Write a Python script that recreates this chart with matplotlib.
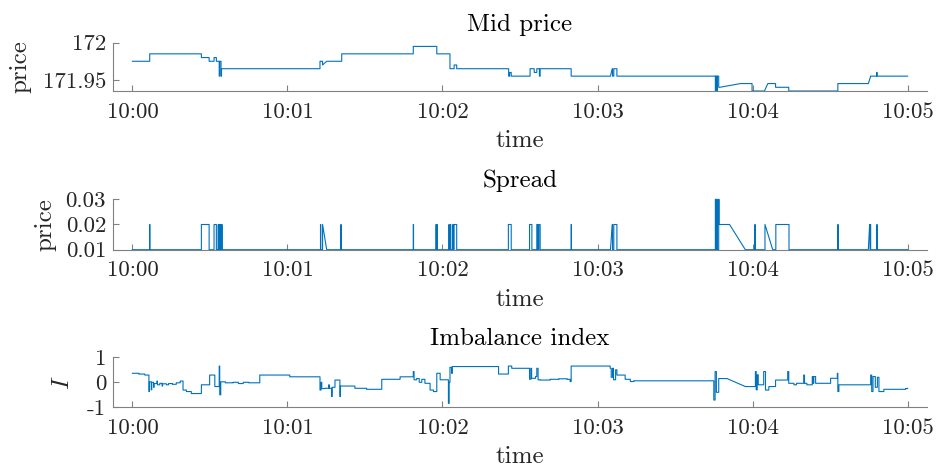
import numpy as np
import matplotlib
matplotlib.use("Agg")
import matplotlib.pyplot as plt

plt.rcParams['font.family'] = ['cmr10', 'DejaVu Serif']
plt.rcParams['mathtext.fontset'] = 'cm'
plt.rcParams['axes.unicode_minus'] = False

# ---------------- data (seconds after 10:00:00) ----------------
mid_t = [0, 6.7, 26.7, 29.7, 31.6, 32.5, 33.6, 33.8, 34.3, 34.5, 72.6, 72.8, 73.6, 75.2,
         81.0, 108.7, 117.8, 122.9, 124.5, 125.5, 145.6, 146.0, 146.6, 153.9, 155.5, 156.5,
         157.5, 157.8, 169.8, 185.0, 185.7, 185.8, 186.3, 187.5, 225.6, 225.7, 226.2, 226.3,
         226.9, 227.3, 235.3, 239.8, 244.6, 245.9, 248.9, 254.0, 273.0, 284.8, 285.7, 288.0,
         288.2, 300.0]
mid_v = [171.975, 171.985, 171.98, 171.975, 171.98, 171.975, 171.955, 171.975, 171.955, 171.965,
         171.975, 171.975, 171.97, 171.975, 171.985, 171.995, 171.985, 171.965, 171.97, 171.965,
         171.955, 171.96, 171.955, 171.965, 171.96, 171.965, 171.955, 171.965, 171.955, 171.955,
         171.965, 171.955, 171.965, 171.955, 171.935, 171.955, 171.935, 171.955, 171.94, 171.94,
         171.945, 171.935, 171.935, 171.945, 171.94, 171.935, 171.945, 171.945, 171.955, 171.96,
         171.955, 171.955]
mid_slant = [13, 30, 40, 43, 48]

spr_t = [0, 6.7, 6.75, 26.7, 29.7, 31.6, 32.5, 33.2, 33.3, 33.6, 33.7, 34.1, 34.2, 34.6, 34.7,
         72.8, 72.9, 73.6, 75.2, 80.7, 80.8, 108.7, 108.8, 117.5, 117.6, 117.9, 118.0,
         122.5, 122.6, 123.1, 123.2, 124.0, 124.1, 124.5, 125.5, 145.5, 146.6, 153.7, 154.6,
         156.5, 156.9, 157.3, 157.8, 169.8, 169.9, 185.0, 185.7, 185.8, 186.3, 187.5,
         225.6, 225.7, 226.2, 226.3, 226.9, 227.0, 231.1, 237.2, 240.9, 241.0, 244.8, 247.8,
         249.0, 254.1, 273.0, 273.1, 284.8, 285.3, 285.5, 285.6, 285.7, 288.1, 288.2, 300.0]
spr_v = [0.01, 0.02, 0.01, 0.02, 0.01, 0.02, 0.01, 0.02, 0.01, 0.02, 0.01, 0.02, 0.01, 0.02, 0.01,
         0.02, 0.01, 0.02, 0.01, 0.02, 0.01, 0.02, 0.01, 0.02, 0.01, 0.02, 0.01,
         0.02, 0.01, 0.02, 0.01, 0.02, 0.01, 0.02, 0.01, 0.02, 0.01, 0.02, 0.01,
         0.02, 0.01, 0.02, 0.01, 0.02, 0.01, 0.01, 0.02, 0.01, 0.02, 0.01,
         0.03, 0.01, 0.03, 0.01, 0.03, 0.02, 0.02, 0.01, 0.02, 0.01, 0.02, 0.01,
         0.02, 0.01, 0.02, 0.01, 0.01, 0.02, 0.01, 0.02, 0.01, 0.02, 0.01, 0.01]
spr_slant = [18, 46, 57, 61, 67]

imb_t = [0, 2.5, 4.8, 6.4, 6.6, 7.3, 7.5, 8.2, 8.4, 9.5, 9.7, 10.6, 11.5, 11.7, 13.2, 14.0,
         15.5, 17.0, 18.5, 19.6, 20.9, 22.8, 26.7, 29.9, 31.9, 33.6, 33.8, 34.2, 36.0, 39.0,
         41.0, 42.9, 45.0, 49.3, 60.9, 72.6, 73.0, 73.3, 74.5, 76.0, 76.2, 77.1, 77.3, 78.4,
         80.3, 80.5, 86.1, 90.6, 96.5, 103.6, 108.7, 109.0, 110.0, 111.0, 112.0, 113.2, 115.2,
         116.5, 117.8, 119.1, 122.3, 122.6, 122.9, 123.5, 123.8, 141.7, 145.5, 146.8, 153.7,
         154.2, 154.5, 156.0, 156.5, 157.0, 157.8, 161.7, 165.0, 168.2, 169.4, 169.8, 184.9,
         185.3, 185.8, 186.2, 187.0, 187.5, 190.7, 192.7, 194.0, 225.0, 225.5, 226.0, 226.9,
         230.1, 237.2, 240.5, 241.1, 241.4, 241.8, 242.2, 244.3, 245.0, 246.3, 248.9, 253.6,
         254.0, 256.0, 257.0, 259.8, 260.1, 261.0, 263.1, 263.5, 263.7, 264.4, 270.2, 272.8,
         273.0, 273.4, 285.7, 286.1, 286.6, 287.5, 288.3, 288.9, 290.8, 299.2, 300.0]
imb_v = [0.36, 0.33, 0.29, -0.37, 0.02, -0.3, 0.0, -0.2, -0.05, 0.05, -0.1, -0.04, -0.15, -0.06,
         -0.1, -0.05, -0.08, -0.02, 0.05, -0.31, -0.37, -0.45, -0.1, 0.29, -0.17, 0.65, -0.5,
         0.02, -0.02, 0.0, -0.05, 0.0, -0.02, 0.29, 0.22, -0.31, 0.0, -0.25, -0.24, -0.1, -0.24,
         -0.57, -0.2, 0.09, -0.57, -0.15, -0.24, -0.28, 0.12, 0.22, 0.43, 0.1, 0.15, 0.0, 0.12,
         -0.04, -0.31, -0.37, 0.36, 0.1, -0.84, 0.0, 0.6, 0.36, 0.63, 0.33, 0.65, 0.56, 0.12,
         0.56, 0.16, 0.23, 0.56, 0.1, 0.09, 0.12, 0.14, 0.12, 0.03, 0.65, 0.56,
         0.2, 0.56, 0.1, 0.5, 0.29, 0.12, 0.03, 0.06, -0.71, 0.43, -0.4, 0.15,
         0.15, -0.17, -0.17, 0.43, -0.3, 0.3, -0.1, 0.43, -0.31, -0.17, 0.09, 0.43,
         -0.04, -0.1, -0.04, 0.29, -0.04, -0.1, 0.23, -0.04, 0.23, -0.04, 0.16, 0.36,
         -0.37, -0.1, 0.29, -0.37, 0.23, -0.2, 0.2, -0.37, -0.28, -0.25, -0.24]
imb_slant = [94, 95]

xtick_vals = [0, 60, 120, 180, 240, 300]
xtick_labels = ['10:00', '10:01', '10:02', '10:03', '10:04', '10:05']


def stairs(t, v, slant):
    xs, ys = [t[0]], [v[0]]
    for i in range(1, len(t)):
        if i not in slant:
            xs.append(t[i]); ys.append(v[i - 1])
        xs.append(t[i]); ys.append(v[i])
    return xs, ys


W, H = 936, 470
fig = plt.figure(figsize=(W / 100, H / 100), dpi=100)

LINE = '#0072BD'
AX = '#808080'
TXT = '#262626'

def make_ax(top, bottom):
    ax = fig.add_axes([113 / W, 1 - bottom / H, (927 - 113) / W, (bottom - top) / H])
    for s in ['top', 'right']:
        ax.spines[s].set_visible(False)
    for s in ['left', 'bottom']:
        ax.spines[s].set_color(AX)
        ax.spines[s].set_linewidth(0.8)
    ax.tick_params(direction='in', length=4.5, width=0.8, color=AX, labelcolor=TXT,
                   labelsize=16.5)
    ax.tick_params(axis='x', pad=8)
    ax.tick_params(axis='y', pad=5)
    ax.set_xlim(-7.5, 307.5)
    ax.set_xticks(xtick_vals)
    ax.set_xticklabels(xtick_labels)
    ax.set_xlabel('time', fontsize=18, color=TXT, labelpad=6)
    return ax

ax1 = make_ax(42.7, 91)
x, y = stairs(mid_t, mid_v, mid_slant)
ax1.plot(x, y, color=LINE, lw=0.8)
ax1.set_ylim(171.935, 172.0)
ax1.set_yticks([171.95, 172.0])
ax1.set_yticklabels(['171.95', '172'])
ax1.set_title('Mid price', fontsize=18, color='black', pad=8.5)
ax1.set_ylabel('price', fontsize=18, color=TXT)
ax1.yaxis.set_label_coords(-0.1, 0.5)

ax2 = make_ax(199.3, 249.7)
x, y = stairs(spr_t, spr_v, spr_slant)
ax2.plot(x, y, color=LINE, lw=0.8, clip_on=False)
ax2.set_ylim(0.01, 0.03)
ax2.set_yticks([0.01, 0.02, 0.03])
ax2.set_yticklabels(['0.01', '0.02', '0.03'])
ax2.set_title('Spread', fontsize=18, color='black', pad=8.5)
ax2.set_ylabel('price', fontsize=18, color=TXT)
ax2.yaxis.set_label_coords(-0.07, 0.5)

ax3 = make_ax(357.3, 407.3)
x, y = stairs(imb_t, imb_v, imb_slant)
ax3.plot(x, y, color=LINE, lw=0.8)
ax3.set_ylim(-1, 1)
ax3.set_yticks([-1, 0, 1])
ax3.set_yticklabels(['-1', '0', '1'])
ax3.set_title('Imbalance index', fontsize=18, color='black', pad=8.5)
ax3.set_ylabel('$I$', fontsize=18, color=TXT)
ax3.yaxis.set_label_coords(-0.048, 0.5)

fig.savefig('out.png', dpi=100)
